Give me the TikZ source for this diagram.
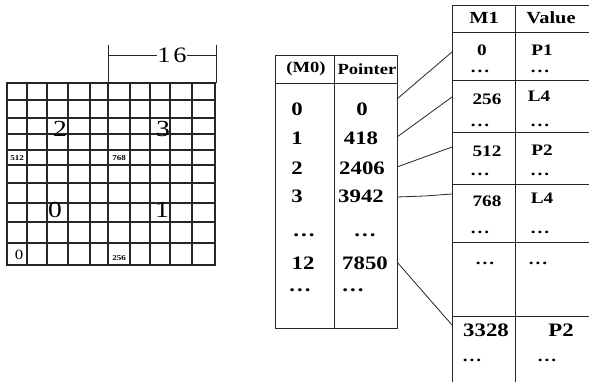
\documentclass[tikz,border=0pt]{standalone}
\usepackage{fontspec}
\setmainfont[FakeStretch=1.2]{Liberation Serif}
\newcommand{\dotz}{.\hspace{2pt}.\hspace{2pt}.}
\begin{document}
\begin{tikzpicture}[x=1pt,y=-1pt,
  gline/.style={line width=1.5pt, black!85},
  gthick/.style={line width=2.8pt, black!85},
  tline/.style={line width=0.9pt, black!85},
  conn/.style={line width=0.8pt, black!85},
  gnum/.style={font=\fontsize{23}{23}\selectfont, inner sep=0pt},
  tinylab/.style={font=\bfseries\fontsize{7.5}{7.5}\selectfont, inner sep=0pt},
  mt/.style={font=\bfseries\fontsize{19}{19}\selectfont, inner sep=0pt},
  hd/.style={font=\bfseries\fontsize{15.5}{15.5}\selectfont, inner sep=0pt},
  rh/.style={font=\bfseries\fontsize{17}{17}\selectfont, inner sep=0pt},
  rt/.style={font=\bfseries\fontsize{16}{16}\selectfont, inner sep=0pt},
  rtb/.style={font=\bfseries\fontsize{19}{19}\selectfont, inner sep=0pt},
  dimnum/.style={font=\fontsize{22}{22}\selectfont, inner sep=0pt, fill=white}
]
\useasboundingbox (0,0) rectangle (589,382);
\fill[white] (0,0) rectangle (589,382);

% ---------- grid ----------
\foreach \x in {27,47,68,90,130,150,170,192}
  \draw[gline] (\x,83) -- (\x,265);
\foreach \y in {100,118,134,150,183,203,222,243}
  \draw[gline] (7,\y) -- (215,\y);
\draw[gthick] (7,83) rectangle (215,265);
\draw[gthick] (108,83) -- (108,265);
\draw[gthick] (7,165) -- (215,165);

\node[gnum] (q2) at (60,129) {2};
\node[gnum] (q3) at (163,129) {3};
\node[gnum] (q0) at (55,210) {0};
\node[gnum] (q1) at (162,210) {1};
\node[tinylab] (s512) at (17,158) {512};
\node[tinylab] (s768) at (119,158) {768};
\node[font=\fontsize{14}{14}\selectfont, inner sep=0pt] (s0) at (19,255) {0};
\node[tinylab] (s256) at (119,258) {256};

% dimension 16
\coordinate (dL) at (108,55);
\coordinate (dR) at (216,55);
\draw[conn] (108,45) -- (108,83);
\draw[conn] (216,45) -- (216,83);
\node[dimnum] (d16) at (172,55) {1\hspace{3pt}6};
\draw[conn] (dL) -- (d16.west);
\draw[conn] (d16.east) -- (dR);

% ---------- middle table ----------
\draw[tline] (275,55) rectangle (397,328);
\draw[tline] (334,55) -- (334,328);
\draw[tline] (275,83) -- (397,83);
\node[hd] (hm0) at (306,69) {(M0)};
\node[hd] (hptr) at (367,69) {Pointer};

\node[mt] (a0) at (297,109) {0};
\node[mt] (a1) at (297,138) {1};
\node[mt] (a2) at (297,168) {2};
\node[mt] (a3) at (297,196) {3};
\node[mt] (a4) at (304,235) {\dotz};
\node[mt] (a5) at (303,263) {12};
\node[mt] (a6) at (300,290) {\dotz};

\node[mt] (b0) at (362,109) {0};
\node[mt] (b1) at (361,138) {418};
\node[mt] (b2) at (362,168) {2406};
\node[mt] (b3) at (361,196) {3942};
\node[mt] (b4) at (365,235) {\dotz};
\node[mt] (b5) at (365,263) {7850};
\node[mt] (b6) at (353,290) {\dotz};

% ---------- right table ----------
\draw[tline] (452,5) -- (589,5);
\draw[tline] (452,5) -- (452,382);
\draw[tline] (515,5) -- (515,382);
\draw[tline] (452,32) -- (589,32);
\foreach \y in {80,132,184,242,316}
  \draw[tline] (452,\y) -- (589,\y);

\node[rh] (hm1) at (484,18) {M1};
\node[rh] (hval) at (551,18) {Value};

\node[rt] (c0) at (482,50) {0};
\node[rt] (v0) at (542,50) {P1};
\node[rt] (c0d) at (480,71) {\dotz};
\node[rt] (v0d) at (540,71) {\dotz};

\node[rt] (c1) at (487,99) {256};
\node[rt] (v1) at (539,96) {L4};
\node[rt] (c1d) at (480,125) {\dotz};
\node[rt] (v1d) at (540,125) {\dotz};

\node[rt] (c2) at (487,151) {512};
\node[rt] (v2) at (542,150) {P2};
\node[rt] (c2d) at (480,174) {\dotz};
\node[rt] (v2d) at (540,174) {\dotz};

\node[rt] (c3) at (487,201) {768};
\node[rt] (v3) at (542,198) {L4};
\node[rt] (c3d) at (480,232) {\dotz};
\node[rt] (v3d) at (540,232) {\dotz};

\node[rt] (c4d) at (485,263) {\dotz};
\node[rt] (v4d) at (538,263) {\dotz};

\node[rtb] (c5) at (486,330) {3328};
\node[rtb] (v5) at (561,330) {P2};
\node[rt] (c5d) at (472,360) {\dotz};
\node[rt] (v5d) at (547,360) {\dotz};

% ---------- connectors ----------
\coordinate (p0) at (397,99);
\coordinate (p1) at (397,137);
\coordinate (p2) at (397,167);
\coordinate (p3) at (397,197);
\coordinate (p3k) at (425,196);
\coordinate (p5) at (397,262);
\coordinate (m0) at (452,52);
\coordinate (m1) at (452,97);
\coordinate (m2) at (452,147);
\coordinate (m3) at (452,194);
\coordinate (m5) at (452,325);
\draw[conn] (p0) -- (m0);
\draw[conn] (p1) -- (m1);
\draw[conn] (p2) -- (m2);
\draw[conn] (p3) -- (p3k) -- (m3);
\draw[conn] (p5) -- (m5);
\end{tikzpicture}
\end{document}
